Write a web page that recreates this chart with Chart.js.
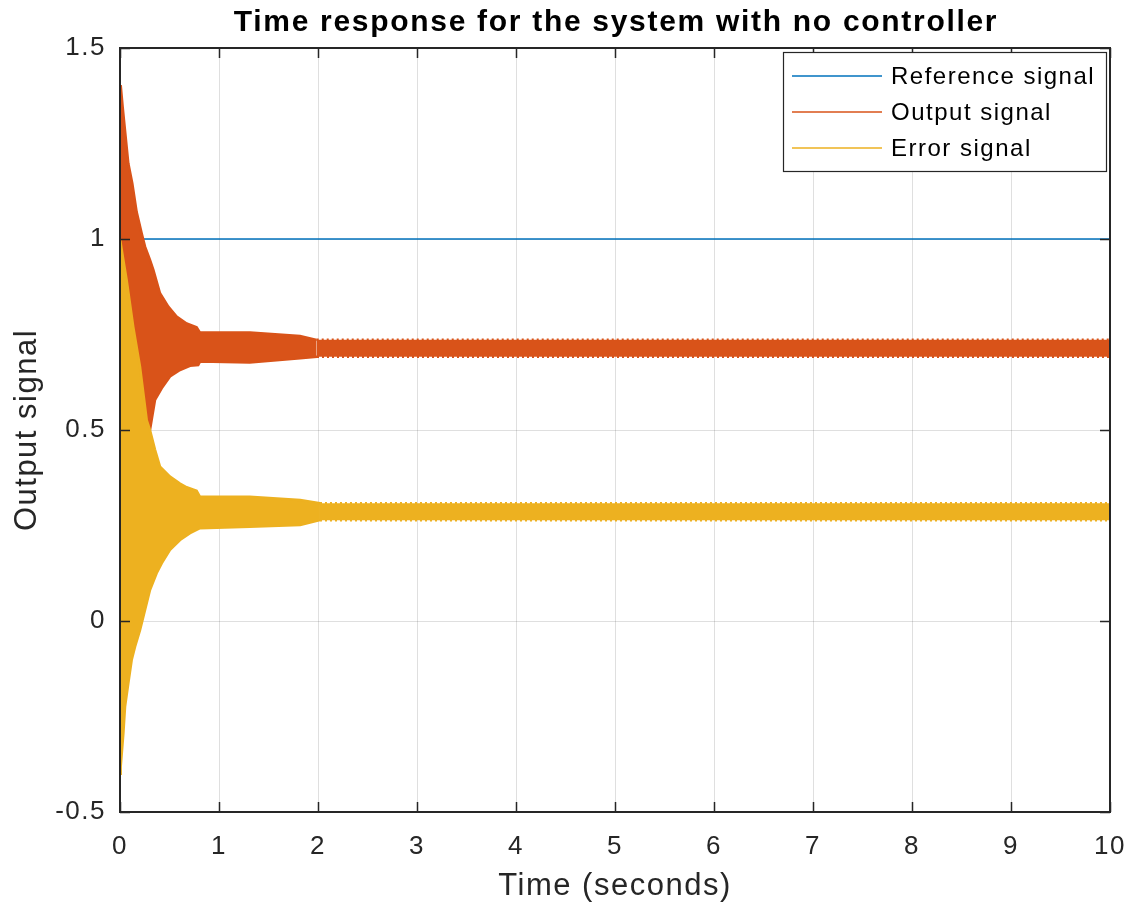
<!DOCTYPE html>
<html>
<head>
<meta charset="utf-8">
<script src="https://cdn.jsdelivr.net/npm/chart.js@4/dist/chart.umd.min.js"></script>
<style>
  html, body { margin: 0; padding: 0; background: #ffffff; }
  #wrap { width: 1137px; height: 911px; }
</style>
</head>
<body>
<div id="wrap"><canvas id="c" width="1137" height="911"></canvas></div>
<script>
// ---------------- data ----------------
const titleText = 'Time response for the system with no controller';
const xAxisTitle = 'Time (seconds)';
const yAxisTitle = 'Output signal';
const seriesNames = ['Reference signal', 'Output signal', 'Error signal'];
const seriesColors = ['#0072BD', '#D95319', '#EDB120'];

const xTicks = [0, 1, 2, 3, 4, 5, 6, 7, 8, 9, 10];
const xTickLabels = ['0', '1', '2', '3', '4', '5', '6', '7', '8', '9', '10'];
const yTicks = [-0.5, 0, 0.5, 1, 1.5];
const yTickLabels = ['-0.5', '0', '0.5', '1', '1.5'];

const refTime = [0, 10];
const refValue = [1, 1];

// output signal: upper / lower envelope of the fast oscillation
const outUpperTime = [0, 0.007, 0.027, 0.040, 0.084, 0.124, 0.168, 0.219, 0.253, 0.303, 0.337, 0.404, 0.488, 0.572, 0.673, 0.774, 0.808, 1.313, 1.818, 1.987, 10];
const outUpper     = [1.40, 1.403, 1.346, 1.312, 1.198, 1.146, 1.071, 1.015, 0.980, 0.945, 0.919, 0.858, 0.823, 0.797, 0.779, 0.769, 0.755, 0.755, 0.746, 0.736, 0.736];
const outLowerTime = [0, 0.034, 0.067, 0.134, 0.202, 0.270, 0.303, 0.354, 0.421, 0.505, 0.606, 0.707, 0.790, 0.808, 1.310, 1.820, 1.990, 10];
const outLower     = [0.0, 0.055, 0.107, 0.230, 0.334, 0.474, 0.500, 0.579, 0.609, 0.640, 0.657, 0.668, 0.670, 0.679, 0.677, 0.688, 0.692, 0.692];

// error signal: upper / lower envelope
const errUpperTime = [0, 0.034, 0.067, 0.134, 0.202, 0.270, 0.303, 0.354, 0.404, 0.505, 0.606, 0.673, 0.774, 0.808, 1.310, 1.820, 2.020, 10];
const errUpper     = [1.0, 0.945, 0.893, 0.770, 0.666, 0.526, 0.500, 0.448, 0.404, 0.378, 0.360, 0.350, 0.341, 0.325, 0.325, 0.317, 0.308, 0.308];
const errLowerTime = [0, 0.007, 0.034, 0.051, 0.084, 0.118, 0.152, 0.202, 0.236, 0.303, 0.370, 0.421, 0.505, 0.606, 0.707, 0.808, 1.310, 1.820, 2.020, 10];
const errLower     = [-0.40, -0.381, -0.294, -0.224, -0.163, -0.102, -0.067, -0.024, 0.011, 0.081, 0.125, 0.151, 0.186, 0.212, 0.230, 0.243, 0.247, 0.251, 0.264, 0.264];

// ---------------- helpers ----------------
const toXY = (xs, ys) => xs.map((x, i) => ({ x: x, y: ys[i] }));
const FONT = 'Arial, "Liberation Sans", Helvetica, sans-serif';
const AXIS_COLOR = '#262626';
const steadyDash = ctx => (ctx.p0.parsed.x >= 1.98 ? [2, 3] : undefined);

// inner ticks + box frame + title (MATLAB style)
const framePlugin = {
  id: 'frame',
  beforeDraw(chart) {
    try { chart.ctx.letterSpacing = '1.5px'; } catch (e) {}
  },
  afterDatasetsDraw(chart) {
    const { ctx, chartArea: a, scales } = chart;
    ctx.save();
    ctx.strokeStyle = AXIS_COLOR;
    ctx.lineWidth = 1.5;
    const tl = 10;
    ctx.beginPath();
    xTicks.forEach(v => {
      const px = Math.round(scales.x.getPixelForValue(v)) + 0.5;
      ctx.moveTo(px, a.bottom); ctx.lineTo(px, a.bottom - tl);
      ctx.moveTo(px, a.top); ctx.lineTo(px, a.top + tl);
    });
    yTicks.forEach(v => {
      const py = Math.round(scales.y.getPixelForValue(v)) + 0.5;
      ctx.moveTo(a.left, py); ctx.lineTo(a.left + tl, py);
      ctx.moveTo(a.right, py); ctx.lineTo(a.right - tl, py);
    });
    ctx.stroke();
    ctx.lineWidth = 2;
    ctx.strokeRect(a.left, a.top, a.right - a.left, a.bottom - a.top);
    ctx.restore();
  },
  afterDraw(chart) {
    const { ctx, chartArea: a } = chart;
    ctx.save();
    try { ctx.letterSpacing = '1.7px'; } catch (e) {}
    ctx.font = 'bold 30px ' + FONT;
    ctx.fillStyle = '#000000';
    ctx.textAlign = 'center';
    ctx.textBaseline = 'alphabetic';
    ctx.fillText(titleText, (a.left + a.right) / 2 + 1, 31);
    ctx.restore();
  }
};

// legend box inside the plot, top-right
const boxLegendPlugin = {
  id: 'boxLegend',
  afterDraw(chart) {
    const { ctx, chartArea: a } = chart;
    const bx = a.right - 327, by = a.top + 4, bw = 323, bh = 119;
    ctx.save();
    ctx.fillStyle = '#ffffff';
    ctx.fillRect(bx, by, bw, bh);
    ctx.strokeStyle = AXIS_COLOR;
    ctx.lineWidth = 1.2;
    ctx.strokeRect(bx + 0.5, by + 0.5, bw, bh);
    try { ctx.letterSpacing = '1.5px'; } catch (e) {}
    ctx.font = '24px ' + FONT;
    ctx.textBaseline = 'middle';
    ctx.textAlign = 'left';
    seriesNames.forEach((name, i) => {
      const y = by + 24 + i * 36;
      ctx.strokeStyle = seriesColors[i];
      ctx.lineWidth = 1.3;
      ctx.beginPath();
      ctx.moveTo(bx + 9, y); ctx.lineTo(bx + 99, y);
      ctx.stroke();
      ctx.fillStyle = '#000000';
      ctx.fillText(name, bx + 108, y + 1);
    });
    ctx.restore();
  }
};

const chart = new Chart(document.getElementById('c'), {
  type: 'line',
  data: {
    datasets: [
      { label: seriesNames[0], data: toXY(refTime, refValue), borderColor: seriesColors[0], borderWidth: 1.3, pointRadius: 0, fill: false, order: 3 },
      { label: seriesNames[1], data: toXY(outUpperTime, outUpper), borderColor: seriesColors[1], backgroundColor: seriesColors[1], borderWidth: 2.5, pointRadius: 0, fill: 2, order: 2, segment: { borderDash: steadyDash } },
      { label: seriesNames[1] + ' (lower)', data: toXY(outLowerTime, outLower), borderColor: seriesColors[1], borderWidth: 2.5, pointRadius: 0, fill: false, order: 2, segment: { borderDash: steadyDash } },
      { label: seriesNames[2], data: toXY(errUpperTime, errUpper), borderColor: seriesColors[2], backgroundColor: seriesColors[2], borderWidth: 2.5, pointRadius: 0, fill: 4, order: 1, segment: { borderDash: steadyDash } },
      { label: seriesNames[2] + ' (lower)', data: toXY(errLowerTime, errLower), borderColor: seriesColors[2], borderWidth: 2.5, pointRadius: 0, fill: false, order: 1, segment: { borderDash: steadyDash } }
    ]
  },
  options: {
    responsive: false,
    animation: false,
    elements: { line: { tension: 0 } },
    layout: { padding: { left: 0, right: 27, top: 48, bottom: 0 } },
    plugins: {
      legend: { display: false },
      tooltip: { enabled: false },
      title: { display: false }
    },
    scales: {
      x: {
        type: 'linear',
        min: 0, max: 10,
        afterBuildTicks: s => { s.ticks = xTicks.map(v => ({ value: v })); },
        afterFit: s => { s.height = 99; s.paddingRight = 0; s.paddingLeft = 0; },
        ticks: { color: AXIS_COLOR, font: { family: FONT, size: 26 }, padding: 19, maxRotation: 0, autoSkip: false,
                 callback: (v) => xTickLabels[xTicks.indexOf(v)] },
        grid: { color: 'rgba(38,38,38,0.15)', lineWidth: 1, drawTicks: false },
        border: { display: false },
        title: { display: true, text: xAxisTitle, color: AXIS_COLOR, font: { family: FONT, size: 31, lineHeight: 1.2 }, padding: { top: 0, bottom: 6 } }
      },
      y: {
        type: 'linear',
        min: -0.5, max: 1.5,
        afterBuildTicks: s => { s.ticks = yTicks.map(v => ({ value: v })); },
        afterFit: s => { s.width = 120; },
        ticks: { color: AXIS_COLOR, font: { family: FONT, size: 26 }, padding: 14, autoSkip: false,
                 callback: (v) => yTickLabels[yTicks.indexOf(v)] },
        grid: { color: 'rgba(38,38,38,0.15)', lineWidth: 1, drawTicks: false },
        border: { display: false },
        title: { display: true, text: yAxisTitle, color: AXIS_COLOR, font: { family: FONT, size: 31, lineHeight: 1.2 }, padding: { top: 9, bottom: 0 } }
      }
    }
  },
  plugins: [framePlugin, boxLegendPlugin]
});
</script>
</body>
</html>
